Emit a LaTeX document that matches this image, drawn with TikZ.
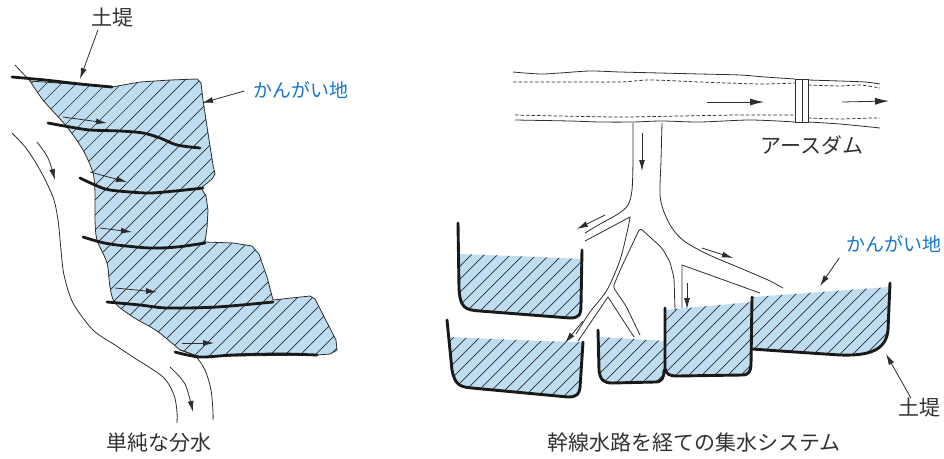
\documentclass[tikz,border=0pt]{standalone}
\usepackage{fontspec}
\newfontfamily\jp{Noto Sans CJK JP}
\usetikzlibrary{arrows.meta,calc}
\definecolor{fieldc}{RGB}{190,221,241}
\definecolor{linec}{RGB}{45,45,45}
\definecolor{wallc}{RGB}{25,25,25}
\definecolor{bluec}{RGB}{22,118,204}
\definecolor{textc}{RGB}{50,50,50}

% outline of the irrigated strip beside the river (left)
\def\strip{(30,81) -- (112,87) -- (140,82) -- (170,80) -- (197,79) -- (201,83) -- (203,100) -- (208,133) -- (213,165) -- (215,174) -- (212,179) -- (201,188) -- (206,196) -- (208,210) -- (207,228) -- (205,242) -- (233,243) -- (252,246) -- (259,254) -- (267,277) -- (273,300) -- (310,296) -- (315,299) -- (336,340) -- (337,350) -- (330,354) -- (317,355) -- (233,356) -- (200,357) -- (180,350) -- plot[smooth] coordinates {(180,350) (157,331) (133,317) (115,303) (110,287) (107,263) (97,240) (95,220) (95,193) (93,173) (83,150) (67,127) (43,100) (30,81)} -- cycle}

% water surfaces of the basins (right)
\def\basinA{(459,254) -- (459,288) .. controls (460,308) and (465,310) .. (480,311) -- (570,318) .. controls (579,318) and (581,315) .. (581,305) -- (582,259) -- (540,257) -- cycle}
\def\basinB{(449,337) -- (452,370) .. controls (455,385) and (460,387) .. (472,388) -- (568,397) .. controls (577,397) and (579,394) .. (580,388) -- (583,342) -- (540,341) -- cycle}
\def\basinC{(599,337) -- (599,370) .. controls (600,380) and (604,383) .. (612,383) -- (655,382) .. controls (662,382) and (664,378) .. (664,370) -- (665,341) -- cycle}
\def\basinD{(665,310) -- (665,368) .. controls (666,375) and (670,376) .. (678,376) -- (742,375) .. controls (749,375) and (751,371) .. (751,364) -- (752,302) -- cycle}
\def\basinE{(752,297) -- (752,349) -- (780,351) -- (840,355) .. controls (870,356) and (886,350) .. (888,330) -- (890,287) -- cycle}

\begin{document}
\begin{tikzpicture}[x=1pt,y=-1pt,
  thinline/.style={draw=linec,line width=0.8pt},
  hatchline/.style={draw=linec,line width=0.7pt},
  levee/.style={draw=wallc,line width=2.8pt,line cap=round},
  wall/.style={draw=wallc,line width=2.9pt,line cap=round,line join=round},
  arr/.style={draw=linec,line width=0.8pt,-{Latex[length=11pt,width=6pt]}},
  bigarr/.style={draw=linec,line width=0.8pt,-{Latex[length=14pt,width=7pt]}},
  dashline/.style={draw=linec,line width=0.75pt,dash pattern=on 3.5pt off 2pt},
  lbl/.style={font=\jp\fontsize{21}{21}\selectfont,text=textc,inner sep=1pt},
  blbl/.style={font=\jp\fontsize{19}{19}\selectfont,text=bluec,inner sep=1pt}]

\path[use as bounding box] (0,0) rectangle (944,458);

%% ---------- simple diversion (left) ----------
\fill[fieldc] \strip;
\begin{scope}
  \clip \strip;
  \foreach \c in {-300,-285,...,360}
    \draw[hatchline] (\c,370) -- ++(320,-320);
\end{scope}
\draw[thinline] \strip;

% river banks
\draw[thinline] (15,65) -- (30,81);
\draw[thinline] plot[smooth] coordinates {(180,350) (195,356) (205,370) (211,390) (213,412) (213,420)};
\draw[thinline] plot[smooth] coordinates {(12,133) (26,148) (40,170) (53,197) (58,220) (61,250) (64,275) (73,303) (93,330) (115,345) (133,357) (163,377) (174,395) (177,412) (177,423)};

% river flow
\draw[arr] plot[smooth] coordinates {(37,142) (48,158) (55,180)};
\draw[arr] plot[smooth] coordinates {(170,367) (185,384) (193,412)};

% levees
\draw[levee] plot[smooth] coordinates {(12,77) (45,80) (80,84) (112,87)};
\draw[levee] plot[smooth] coordinates {(48,123) (70,127) (90,130) (120,131) (143,133) (160,138) (177,145) (200,148)};
\draw[levee] plot[smooth] coordinates {(80,178) (95,185) (110,190) (147,193) (175,191) (203,188)};
\draw[levee] plot[smooth] coordinates {(83,237) (100,242) (117,245) (150,248) (177,247) (205,243)};
\draw[levee] plot[smooth] coordinates {(107,302) (140,305) (167,308) (217,307) (273,302)};
\draw[levee] plot[smooth] coordinates {(175,352) (200,357) (233,355) (280,354) (317,355)};

% water led onto each terrace
\coordinate (t1s) at (63,117);  \coordinate (t1e) at (107,123);
\coordinate (t2s) at (90,172);  \coordinate (t2e) at (127,182);
\coordinate (t3s) at (100,228); \coordinate (t3e) at (132,232);
\coordinate (t4s) at (115,288); \coordinate (t4e) at (157,292);
\coordinate (t5s) at (182,343); \coordinate (t5e) at (214,343);
\foreach \k in {1,...,5} \draw[arr] (t\k s) -- (t\k e);

% labels
\node[lbl]  (leveeL) at (112,18) {土堤};
\coordinate (leveeLtip) at (80,79);
\draw[arr] ([xshift=-14pt,yshift=-1pt]leveeL.south) -- (leveeLtip);

\node[blbl] (landL) at (301,90) {かんがい地};
\coordinate (landLtip) at (202,103);
\draw[arr] ([xshift=-8pt,yshift=-1pt]landL.west) -- (landLtip);

\node[lbl] (capL) at (159,443) {単純な分水};

%% ---------- collection through a trunk canal (right) ----------
% main canal
\draw[thinline] plot[smooth] coordinates {(513,72) (540,74) (560,73) (590,71) (620,72) (660,73) (700,74) (740,75) (765,77) (795,79)};
\draw[thinline] plot[smooth] coordinates {(808,80) (840,81) (865,82) (880,84)};
\draw[dashline] plot[smooth] coordinates {(513,82) (560,82) (620,82) (650,80) (700,82) (760,84) (795,83)};
\draw[dashline] plot[smooth] coordinates {(808,85) (840,86) (860,85) (880,88)};
\draw[dashline] plot[smooth] coordinates {(515,115) (560,116) (620,117) (680,116) (740,115) (795,115)};
\draw[dashline] plot[smooth] coordinates {(808,118) (840,119) (870,118) (880,118)};
\draw[thinline] plot[smooth] coordinates {(515,120) (570,121) (600,122) (633,122) (662,121) (700,122) (750,120) (795,122)};
\draw[thinline] plot[smooth] coordinates {(808,122) (840,124) (880,128)};

% earth dam
\draw[thinline] (795,79) rectangle (802,122);
\draw[thinline] (802,79) rectangle (808,122);
\node[lbl] (dam) at (812,145) {アースダム};

\coordinate (fa1) at (707,102); \coordinate (fa2) at (764,102);
\coordinate (fb1) at (842,102); \coordinate (fb2) at (889,101);
\draw[bigarr] (fa1) -- (fa2);
\draw[bigarr] (fb1) -- (fb2);

% basins
\foreach \b in {\basinA,\basinB,\basinC,\basinD,\basinE}{
  \fill[fieldc] \b;
  \begin{scope}
    \clip \b;
    \foreach \c in {300,313,...,900}
      \draw[hatchline] (\c,400) -- ++(160,-160);
  \end{scope}
}
\draw[wall] (458,223) -- (459,288) .. controls (460,308) and (465,310) .. (480,311) -- (570,318) .. controls (579,318) and (581,315) .. (581,305) -- (582,250);
\draw[wall] (447,320) -- (452,370) .. controls (455,385) and (460,387) .. (472,388) -- (568,397) .. controls (577,397) and (579,394) .. (580,388) -- (583,342);
\draw[wall] (598,330) -- (599,370) .. controls (600,380) and (604,383) .. (612,383) -- (655,382) .. controls (662,382) and (664,378) .. (664,370);
\draw[wall] (665,308) -- (665,368) .. controls (666,375) and (670,376) .. (678,376) -- (742,375) .. controls (749,375) and (751,371) .. (751,364) -- (752,297);
\draw[wall] (752,349) -- (780,351) -- (840,355) .. controls (870,356) and (886,350) .. (888,330) -- (890,283);

% branch canals
\draw[thinline] plot[smooth] coordinates {(633,123) (633,160) (632,190) (628,205) (618,214) (600,224) (585,233)};
\draw[thinline] (585,241) -- (630,217) -- plot[smooth] coordinates {(630,217) (628,228) (620,260) (607,290) (590,312) (576,334)};
\draw[thinline,rounded corners=3pt] (640,335) -- (626,306) -- (613,287) -- (622,266) -- (640,228) -- (650,237) -- (662,248) -- (670,262) -- (674,278) -- (675,310);
\draw[thinline] (578,341) -- (608,297) -- (634,337);
\draw[thinline] plot[smooth] coordinates {(662,123) (661,160) (660,195) (664,212) (672,228) (684,241) (707,254) (740,268) (768,280) (783,288)};
\draw[thinline] (682,308) -- (682,265) -- (760,293);

\coordinate (ba1) at (642,133); \coordinate (ba2) at (642,171);
\coordinate (bb1) at (605,215); \coordinate (bb2) at (577,229);
\coordinate (bc1) at (583,321); \coordinate (bc2) at (565,343);
\coordinate (bd1) at (702,248); \coordinate (bd2) at (733,258);
\coordinate (be1) at (687,283); \coordinate (be2) at (687,309);
\foreach \k in {a,b,c,d,e} \draw[arr] (b\k1) -- (b\k2);

% labels
\node[blbl] (landR) at (894,244) {かんがい地};
\coordinate (landRtip) at (820,286);
\draw[arr] ([xshift=-6pt,yshift=-4pt]landR.south west) -- (landRtip);

\node[lbl] (leveeR) at (919,408) {土堤};
\coordinate (leveeRtip) at (886,354);
\draw[arr] ([xshift=-8pt,yshift=-1pt]leveeR.north) -- (leveeRtip);

\node[lbl] (capR) at (694,443) {幹線水路を経ての集水システム};
\end{tikzpicture}
\end{document}
